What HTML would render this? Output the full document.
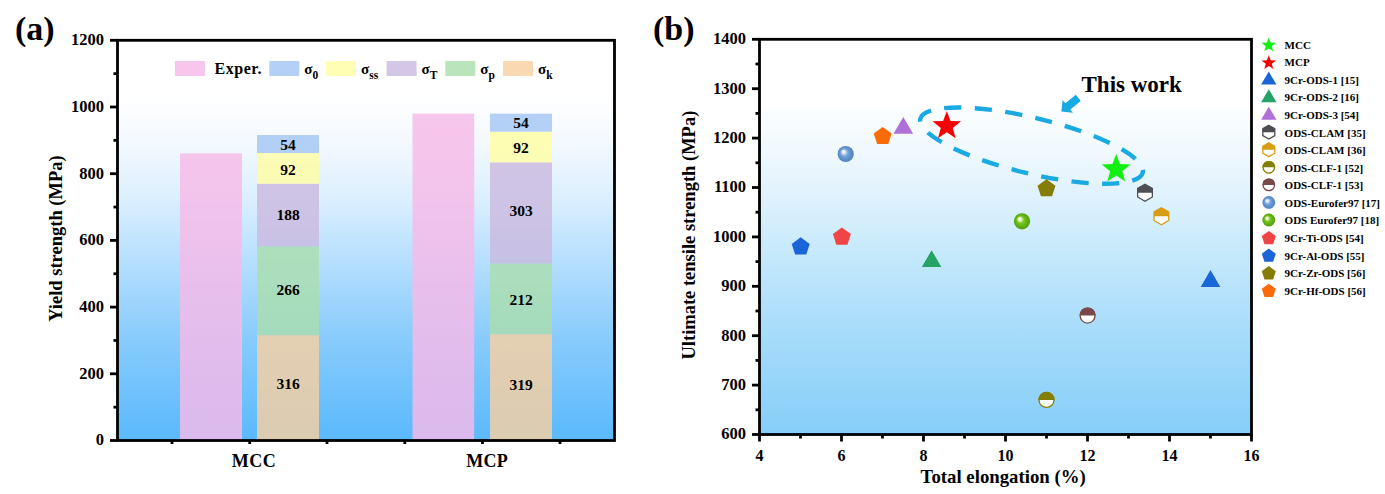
<!DOCTYPE html><html><head><meta charset="utf-8"><style>html,body{margin:0;padding:0;background:#fff;overflow:hidden;}svg{display:block;}text{font-family:'Liberation Serif','Times New Roman',serif;font-weight:bold;fill:#000;}</style></head><body>
<svg width="1385" height="494" viewBox="0 0 1385 494">
<defs>
<linearGradient id="bgA" x1="0" y1="0" x2="0" y2="1">
 <stop offset="0" stop-color="#ffffff"/>
 <stop offset="0.14" stop-color="#ffffff"/>
 <stop offset="0.25" stop-color="#f4f9ff"/>
 <stop offset="0.40" stop-color="#dbeffe"/>
 <stop offset="0.50" stop-color="#c2e4ff"/>
 <stop offset="0.75" stop-color="#87cbfc"/>
 <stop offset="1" stop-color="#5ab9fd"/>
</linearGradient>
<linearGradient id="bgB" x1="0" y1="0" x2="0" y2="1">
 <stop offset="0" stop-color="#ffffff"/>
 <stop offset="0.17" stop-color="#ffffff"/>
 <stop offset="0.19" stop-color="#f9fdff"/>
 <stop offset="0.255" stop-color="#f3fafe"/>
 <stop offset="0.38" stop-color="#e2f3fd"/>
 <stop offset="0.51" stop-color="#cbebfc"/>
 <stop offset="0.66" stop-color="#b3e1fb"/>
 <stop offset="0.81" stop-color="#9ed8fa"/>
 <stop offset="1" stop-color="#86cef9"/>
</linearGradient>
<radialGradient id="sphB" cx="0.5" cy="0.5" r="0.5" fx="0.34" fy="0.34">
 <stop offset="0" stop-color="#ffffff"/>
 <stop offset="0.2" stop-color="#dbe7f6"/>
 <stop offset="0.45" stop-color="#78a6da"/>
 <stop offset="0.7" stop-color="#5f93cc"/>
 <stop offset="1" stop-color="#5184c0"/>
</radialGradient>
<radialGradient id="sphG" cx="0.5" cy="0.5" r="0.5" fx="0.33" fy="0.33">
 <stop offset="0" stop-color="#ffffff"/>
 <stop offset="0.22" stop-color="#dcf2b8"/>
 <stop offset="0.45" stop-color="#76c222"/>
 <stop offset="0.7" stop-color="#62b410"/>
 <stop offset="1" stop-color="#529e08"/>
</radialGradient>
</defs>
<rect x="0" y="0" width="1385" height="494" fill="#fff"/>
<rect x="117.50" y="40.30" width="497.00" height="400.20" fill="url(#bgA)"/>
<rect x="180.00" y="153.36" width="62.00" height="287.14" fill="#f6b9e8" fill-opacity="0.82"/>
<rect x="257.00" y="335.11" width="62.00" height="105.39" fill="#f8cfa1" fill-opacity="0.82"/>
<rect x="257.00" y="246.40" width="62.00" height="88.71" fill="#aadead" fill-opacity="0.82"/>
<rect x="257.00" y="183.70" width="62.00" height="62.70" fill="#cabadf" fill-opacity="0.82"/>
<rect x="257.00" y="153.02" width="62.00" height="30.68" fill="#fffea4" fill-opacity="0.82"/>
<rect x="257.00" y="135.01" width="62.00" height="18.01" fill="#a4c6f4" fill-opacity="0.82"/>
<rect x="490.00" y="334.11" width="62.00" height="106.39" fill="#f8cfa1" fill-opacity="0.82"/>
<rect x="490.00" y="263.41" width="62.00" height="70.70" fill="#aadead" fill-opacity="0.82"/>
<rect x="490.00" y="162.36" width="62.00" height="101.05" fill="#cabadf" fill-opacity="0.82"/>
<rect x="490.00" y="131.68" width="62.00" height="30.68" fill="#fffea4" fill-opacity="0.82"/>
<rect x="490.00" y="113.67" width="62.00" height="18.01" fill="#a4c6f4" fill-opacity="0.82"/>
<rect x="412.50" y="113.67" width="61.70" height="326.83" fill="#f6b9e8" fill-opacity="0.82"/>
<text x="288.00" y="389.05" font-size="15.50" text-anchor="middle" >316</text>
<text x="288.00" y="295.15" font-size="15.50" text-anchor="middle" >266</text>
<text x="288.00" y="219.75" font-size="15.50" text-anchor="middle" >188</text>
<text x="288.00" y="174.75" font-size="15.50" text-anchor="middle" >92</text>
<text x="288.00" y="149.65" font-size="15.50" text-anchor="middle" >54</text>
<text x="521.00" y="389.75" font-size="15.50" text-anchor="middle" >319</text>
<text x="521.00" y="304.55" font-size="15.50" text-anchor="middle" >212</text>
<text x="521.00" y="215.55" font-size="15.50" text-anchor="middle" >303</text>
<text x="521.00" y="152.75" font-size="15.50" text-anchor="middle" >92</text>
<text x="521.00" y="128.25" font-size="15.50" text-anchor="middle" >54</text>
<rect x="175" y="61" width="30" height="15" fill="#f6b9e8" fill-opacity="0.82"/>
<text x="214.50" y="73.80" font-size="16.00" text-anchor="start" letter-spacing="0.55">Exper.</text>
<rect x="269.30" y="61" width="30" height="15" fill="#a4c6f4" fill-opacity="0.82"/>
<text x="304.30" y="74.3" font-size="15">σ<tspan font-size="11.5" dy="4.4">0</tspan></text>
<rect x="326.00" y="61" width="30" height="15" fill="#fffea4" fill-opacity="0.82"/>
<text x="361.00" y="74.3" font-size="15">σ<tspan font-size="11.5" dy="4.4">ss</tspan></text>
<rect x="386.60" y="61" width="30" height="15" fill="#cabadf" fill-opacity="0.82"/>
<text x="421.60" y="74.3" font-size="15">σ<tspan font-size="11.5" dy="4.4">T</tspan></text>
<rect x="445.30" y="61" width="30" height="15" fill="#aadead" fill-opacity="0.82"/>
<text x="480.30" y="74.3" font-size="15">σ<tspan font-size="11.5" dy="4.4">p</tspan></text>
<rect x="503.00" y="61" width="30" height="15" fill="#f8cfa1" fill-opacity="0.82"/>
<text x="538.00" y="74.3" font-size="15">σ<tspan font-size="11.5" dy="4.4">k</tspan></text>
<rect x="117.50" y="40.30" width="497.00" height="400.20" fill="none" stroke="#000" stroke-width="2.8"/>
<line x1="110" y1="440.50" x2="117.50" y2="440.50" stroke="#000" stroke-width="2.8"/>
<text x="104.00" y="445.40" font-size="16.50" text-anchor="end" >0</text>
<line x1="113.5" y1="407.15" x2="117.50" y2="407.15" stroke="#000" stroke-width="2.8"/>
<line x1="110" y1="373.80" x2="117.50" y2="373.80" stroke="#000" stroke-width="2.8"/>
<text x="104.00" y="378.70" font-size="16.50" text-anchor="end" >200</text>
<line x1="113.5" y1="340.45" x2="117.50" y2="340.45" stroke="#000" stroke-width="2.8"/>
<line x1="110" y1="307.10" x2="117.50" y2="307.10" stroke="#000" stroke-width="2.8"/>
<text x="104.00" y="312.00" font-size="16.50" text-anchor="end" >400</text>
<line x1="113.5" y1="273.75" x2="117.50" y2="273.75" stroke="#000" stroke-width="2.8"/>
<line x1="110" y1="240.40" x2="117.50" y2="240.40" stroke="#000" stroke-width="2.8"/>
<text x="104.00" y="245.30" font-size="16.50" text-anchor="end" >600</text>
<line x1="113.5" y1="207.05" x2="117.50" y2="207.05" stroke="#000" stroke-width="2.8"/>
<line x1="110" y1="173.70" x2="117.50" y2="173.70" stroke="#000" stroke-width="2.8"/>
<text x="104.00" y="178.60" font-size="16.50" text-anchor="end" >800</text>
<line x1="113.5" y1="140.35" x2="117.50" y2="140.35" stroke="#000" stroke-width="2.8"/>
<line x1="110" y1="107.00" x2="117.50" y2="107.00" stroke="#000" stroke-width="2.8"/>
<text x="104.00" y="111.90" font-size="16.50" text-anchor="end" >1000</text>
<line x1="113.5" y1="73.65" x2="117.50" y2="73.65" stroke="#000" stroke-width="2.8"/>
<line x1="110" y1="40.30" x2="117.50" y2="40.30" stroke="#000" stroke-width="2.8"/>
<text x="104.00" y="45.20" font-size="16.50" text-anchor="end" >1200</text>
<line x1="172.00" y1="440.50" x2="172.00" y2="444" stroke="#000" stroke-width="2.8"/>
<line x1="249.70" y1="440.50" x2="249.70" y2="444" stroke="#000" stroke-width="2.8"/>
<line x1="327.00" y1="440.50" x2="327.00" y2="444" stroke="#000" stroke-width="2.8"/>
<line x1="404.80" y1="440.50" x2="404.80" y2="444" stroke="#000" stroke-width="2.8"/>
<line x1="482.50" y1="440.50" x2="482.50" y2="444" stroke="#000" stroke-width="2.8"/>
<line x1="560.00" y1="440.50" x2="560.00" y2="444" stroke="#000" stroke-width="2.8"/>
<text x="254.00" y="467.40" font-size="18.00" text-anchor="middle" letter-spacing="0.5">MCC</text>
<text x="487.10" y="467.40" font-size="18.00" text-anchor="middle" letter-spacing="0.3">MCP</text>
<text x="61.90" y="238.60" font-size="18.50" text-anchor="middle" transform="rotate(-90 61.9 238.6)">Yield strength (MPa)</text>
<text x="15.00" y="40.00" font-size="34.00" text-anchor="start" >(a)</text>
<rect x="759.50" y="39.30" width="492.00" height="395.20" fill="url(#bgB)"/>
<ellipse cx="1031.57" cy="145.64" rx="114.42" ry="27.84" transform="rotate(13.577 1031.57 145.64)" fill="none" stroke="#19a9e3" stroke-width="4.4" stroke-dasharray="17.22 13.367" stroke-dashoffset="3.373"/>
<polygon points="1061.30,111.50 1072.90,112.71 1070.25,109.39 1080.78,100.95 1075.84,94.79 1065.31,103.23 1062.65,99.91" fill="#19a9e3"/>
<text x="1081.50" y="92.10" font-size="23.00" text-anchor="start" >This work</text>
<circle cx="845.70" cy="154.00" r="8.10" fill="url(#sphB)"/>
<polygon points="882.70,126.95 891.69,133.48 888.25,144.05 877.15,144.05 873.71,133.48" fill="#fa6a08"/>
<polygon points="903.30,117.00 913.10,133.80 893.50,133.80" fill="#b070da"/>
<polygon points="946.80,111.00 950.50,120.90 961.07,121.36 952.79,127.95 955.62,138.14 946.80,132.30 937.98,138.14 940.81,127.95 932.53,121.36 943.10,120.90" fill="#f70000"/>
<polygon points="841.90,227.55 850.89,234.08 847.45,244.65 836.35,244.65 832.91,234.08" fill="#f24444"/>
<polygon points="800.70,237.35 809.69,243.88 806.25,254.45 795.15,254.45 791.71,243.88" fill="#1a64d8"/>
<polygon points="931.60,250.30 941.40,267.10 921.80,267.10" fill="#26a264"/>
<polygon points="1210.50,270.10 1220.30,286.90 1200.70,286.90" fill="#1a66d8"/>
<polygon points="1046.50,179.15 1055.49,185.68 1052.05,196.25 1040.95,196.25 1037.51,185.68" fill="#857d05"/>
<circle cx="1022.00" cy="221.30" r="8.10" fill="url(#sphG)"/>
<polygon points="1145.00,184.20 1152.36,188.45 1152.36,196.95 1145.00,201.20 1137.64,196.95 1137.64,188.45" fill="#fff" stroke="#4e4e54" stroke-width="1.3"/><polygon points="1137.64,192.70 1137.64,188.45 1145.00,184.20 1152.36,188.45 1152.36,192.70" fill="#4e4e54"/>
<polygon points="1161.40,207.70 1168.76,211.95 1168.76,220.45 1161.40,224.70 1154.04,220.45 1154.04,211.95" fill="#fff" stroke="#d89c10" stroke-width="1.3"/><polygon points="1154.04,216.20 1154.04,211.95 1161.40,207.70 1168.76,211.95 1168.76,216.20" fill="#d89c10"/>
<circle cx="1087.60" cy="315.60" r="7.50" fill="#fff" stroke="#7a4848" stroke-width="1.3"/><path d="M1079.45,315.60 A8.15,8.15 0 0 1 1095.75,315.60 Z" fill="#7a4848"/>
<circle cx="1046.50" cy="399.90" r="7.50" fill="#fff" stroke="#838000" stroke-width="1.3"/><path d="M1038.35,399.90 A8.15,8.15 0 0 1 1054.65,399.90 Z" fill="#838000"/>
<polygon points="1116.20,154.00 1119.95,164.04 1130.66,164.50 1122.27,171.17 1125.13,181.50 1116.20,175.58 1107.27,181.50 1110.13,171.17 1101.74,164.50 1112.45,164.04" fill="#12f012"/>
<rect x="759.50" y="39.30" width="492.00" height="395.20" fill="none" stroke="#000" stroke-width="2.8"/>
<line x1="752" y1="434.50" x2="759.50" y2="434.50" stroke="#000" stroke-width="2.8"/>
<text x="746.00" y="439.40" font-size="16.50" text-anchor="end" >600</text>
<line x1="755.5" y1="409.80" x2="759.50" y2="409.80" stroke="#000" stroke-width="2.8"/>
<line x1="752" y1="385.10" x2="759.50" y2="385.10" stroke="#000" stroke-width="2.8"/>
<text x="746.00" y="390.00" font-size="16.50" text-anchor="end" >700</text>
<line x1="755.5" y1="360.40" x2="759.50" y2="360.40" stroke="#000" stroke-width="2.8"/>
<line x1="752" y1="335.70" x2="759.50" y2="335.70" stroke="#000" stroke-width="2.8"/>
<text x="746.00" y="340.60" font-size="16.50" text-anchor="end" >800</text>
<line x1="755.5" y1="311.00" x2="759.50" y2="311.00" stroke="#000" stroke-width="2.8"/>
<line x1="752" y1="286.30" x2="759.50" y2="286.30" stroke="#000" stroke-width="2.8"/>
<text x="746.00" y="291.20" font-size="16.50" text-anchor="end" >900</text>
<line x1="755.5" y1="261.60" x2="759.50" y2="261.60" stroke="#000" stroke-width="2.8"/>
<line x1="752" y1="236.90" x2="759.50" y2="236.90" stroke="#000" stroke-width="2.8"/>
<text x="746.00" y="241.80" font-size="16.50" text-anchor="end" >1000</text>
<line x1="755.5" y1="212.20" x2="759.50" y2="212.20" stroke="#000" stroke-width="2.8"/>
<line x1="752" y1="187.50" x2="759.50" y2="187.50" stroke="#000" stroke-width="2.8"/>
<text x="746.00" y="192.40" font-size="16.50" text-anchor="end" >1100</text>
<line x1="755.5" y1="162.80" x2="759.50" y2="162.80" stroke="#000" stroke-width="2.8"/>
<line x1="752" y1="138.10" x2="759.50" y2="138.10" stroke="#000" stroke-width="2.8"/>
<text x="746.00" y="143.00" font-size="16.50" text-anchor="end" >1200</text>
<line x1="755.5" y1="113.40" x2="759.50" y2="113.40" stroke="#000" stroke-width="2.8"/>
<line x1="752" y1="88.70" x2="759.50" y2="88.70" stroke="#000" stroke-width="2.8"/>
<text x="746.00" y="93.60" font-size="16.50" text-anchor="end" >1300</text>
<line x1="755.5" y1="64.00" x2="759.50" y2="64.00" stroke="#000" stroke-width="2.8"/>
<line x1="752" y1="39.30" x2="759.50" y2="39.30" stroke="#000" stroke-width="2.8"/>
<text x="746.00" y="44.20" font-size="16.50" text-anchor="end" >1400</text>
<line x1="759.50" y1="434.50" x2="759.50" y2="441.5" stroke="#000" stroke-width="2.8"/>
<text x="759.50" y="460.60" font-size="16.00" text-anchor="middle" >4</text>
<line x1="800.50" y1="434.50" x2="800.50" y2="438.5" stroke="#000" stroke-width="2.8"/>
<line x1="841.50" y1="434.50" x2="841.50" y2="441.5" stroke="#000" stroke-width="2.8"/>
<text x="841.50" y="460.60" font-size="16.00" text-anchor="middle" >6</text>
<line x1="882.50" y1="434.50" x2="882.50" y2="438.5" stroke="#000" stroke-width="2.8"/>
<line x1="923.50" y1="434.50" x2="923.50" y2="441.5" stroke="#000" stroke-width="2.8"/>
<text x="923.50" y="460.60" font-size="16.00" text-anchor="middle" >8</text>
<line x1="964.50" y1="434.50" x2="964.50" y2="438.5" stroke="#000" stroke-width="2.8"/>
<line x1="1005.50" y1="434.50" x2="1005.50" y2="441.5" stroke="#000" stroke-width="2.8"/>
<text x="1005.50" y="460.60" font-size="16.00" text-anchor="middle" >10</text>
<line x1="1046.50" y1="434.50" x2="1046.50" y2="438.5" stroke="#000" stroke-width="2.8"/>
<line x1="1087.50" y1="434.50" x2="1087.50" y2="441.5" stroke="#000" stroke-width="2.8"/>
<text x="1087.50" y="460.60" font-size="16.00" text-anchor="middle" >12</text>
<line x1="1128.50" y1="434.50" x2="1128.50" y2="438.5" stroke="#000" stroke-width="2.8"/>
<line x1="1169.50" y1="434.50" x2="1169.50" y2="441.5" stroke="#000" stroke-width="2.8"/>
<text x="1169.50" y="460.60" font-size="16.00" text-anchor="middle" >14</text>
<line x1="1210.50" y1="434.50" x2="1210.50" y2="438.5" stroke="#000" stroke-width="2.8"/>
<line x1="1251.50" y1="434.50" x2="1251.50" y2="441.5" stroke="#000" stroke-width="2.8"/>
<text x="1251.50" y="460.60" font-size="16.00" text-anchor="middle" >16</text>
<text x="1003.20" y="483.30" font-size="18.80" text-anchor="middle" >Total elongation (%)</text>
<text x="695.00" y="235.10" font-size="18.50" text-anchor="middle" transform="rotate(-90 695 235.1)">Ultimate tensile strength (MPa)</text>
<text x="653.00" y="40.00" font-size="34.00" text-anchor="start" >(b)</text>
<text x="1284.60" y="48.80" font-size="11.00" text-anchor="start" >MCC</text>
<polygon points="1268.80,37.60 1270.68,42.62 1276.03,42.85 1271.84,46.19 1273.27,51.35 1268.80,48.39 1264.33,51.35 1265.76,46.19 1261.57,42.85 1266.92,42.62" fill="#12f012"/>
<text x="1284.60" y="66.36" font-size="11.00" text-anchor="start" >MCP</text>
<polygon points="1268.80,55.16 1270.68,60.18 1276.03,60.41 1271.84,63.75 1273.27,68.91 1268.80,65.95 1264.33,68.91 1265.76,63.75 1261.57,60.41 1266.92,60.18" fill="#f70000"/>
<text x="1284.60" y="83.92" font-size="11.00" text-anchor="start" >9Cr-ODS-1 [15]</text>
<polygon points="1268.80,71.62 1276.50,84.62 1261.10,84.62" fill="#1a66d8"/>
<text x="1284.60" y="101.48" font-size="11.00" text-anchor="start" >9Cr-ODS-2 [16]</text>
<polygon points="1268.80,89.18 1276.50,102.18 1261.10,102.18" fill="#26a264"/>
<text x="1284.60" y="119.04" font-size="11.00" text-anchor="start" >9Cr-ODS-3 [54]</text>
<polygon points="1268.80,106.74 1276.50,119.74 1261.10,119.74" fill="#b070da"/>
<text x="1284.60" y="136.60" font-size="11.00" text-anchor="start" >ODS-CLAM [35]</text>
<polygon points="1268.80,125.30 1274.78,128.75 1274.78,135.65 1268.80,139.10 1262.82,135.65 1262.82,128.75" fill="#fff" stroke="#4c4c52" stroke-width="1.3"/><polygon points="1262.82,132.20 1262.82,128.75 1268.80,125.30 1274.78,128.75 1274.78,132.20" fill="#4c4c52"/>
<text x="1284.60" y="154.16" font-size="11.00" text-anchor="start" >ODS-CLAM [36]</text>
<polygon points="1268.80,142.86 1274.78,146.31 1274.78,153.21 1268.80,156.66 1262.82,153.21 1262.82,146.31" fill="#fff" stroke="#d89c10" stroke-width="1.3"/><polygon points="1262.82,149.76 1262.82,146.31 1268.80,142.86 1274.78,146.31 1274.78,149.76" fill="#d89c10"/>
<text x="1284.60" y="171.72" font-size="11.00" text-anchor="start" >ODS-CLF-1 [52]</text>
<circle cx="1268.80" cy="167.32" r="5.75" fill="#fff" stroke="#838000" stroke-width="1.3"/><path d="M1262.40,167.32 A6.40,6.40 0 0 1 1275.20,167.32 Z" fill="#838000"/>
<text x="1284.60" y="189.28" font-size="11.00" text-anchor="start" >ODS-CLF-1 [53]</text>
<circle cx="1268.80" cy="184.88" r="5.75" fill="#fff" stroke="#7a4848" stroke-width="1.3"/><path d="M1262.40,184.88 A6.40,6.40 0 0 1 1275.20,184.88 Z" fill="#7a4848"/>
<text x="1284.60" y="206.84" font-size="11.00" text-anchor="start" >ODS-Eurofer97 [17]</text>
<circle cx="1268.80" cy="202.44" r="6.40" fill="url(#sphB)"/>
<text x="1284.60" y="224.40" font-size="11.00" text-anchor="start" >ODS Eurofer97 [18]</text>
<circle cx="1268.80" cy="220.00" r="6.40" fill="url(#sphG)"/>
<text x="1284.60" y="241.96" font-size="11.00" text-anchor="start" >9Cr-Ti-ODS [54]</text>
<polygon points="1268.80,231.00 1275.80,236.09 1273.13,244.31 1264.47,244.31 1261.80,236.09" fill="#f24444"/>
<text x="1284.60" y="259.52" font-size="11.00" text-anchor="start" >9Cr-Al-ODS [55]</text>
<polygon points="1268.80,248.56 1275.80,253.65 1273.13,261.87 1264.47,261.87 1261.80,253.65" fill="#1a64d8"/>
<text x="1284.60" y="277.08" font-size="11.00" text-anchor="start" >9Cr-Zr-ODS [56]</text>
<polygon points="1268.80,266.12 1275.80,271.21 1273.13,279.43 1264.47,279.43 1261.80,271.21" fill="#857d05"/>
<text x="1284.60" y="294.64" font-size="11.00" text-anchor="start" >9Cr-Hf-ODS [56]</text>
<polygon points="1268.80,283.68 1275.80,288.77 1273.13,296.99 1264.47,296.99 1261.80,288.77" fill="#fa6a08"/>
</svg></body></html>
